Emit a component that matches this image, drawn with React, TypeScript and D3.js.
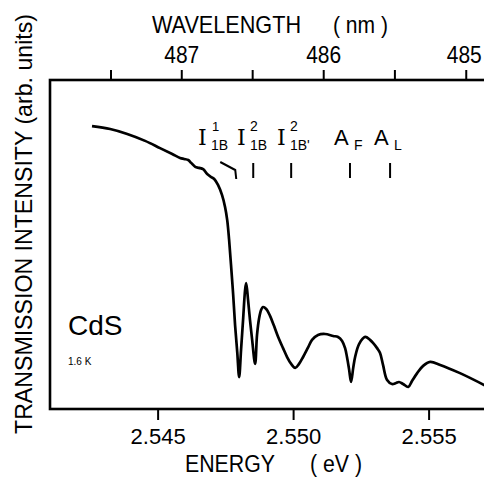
import React from 'react';
import * as d3 from 'd3';

// transmission spectrum of CdS at 1.6 K
const energy = [
  2.54256, 2.54323, 2.54386, 2.54452, 2.54507, 2.54552, 2.54581, 2.54596, 2.54611, 2.54622,
  2.54637, 2.54651, 2.54666, 2.54681, 2.54696, 2.54707, 2.54721, 2.54736, 2.54747, 2.54755,
  2.54762, 2.54769, 2.54777, 2.54784, 2.54792, 2.54799, 2.54806, 2.54814, 2.54821, 2.54825,
  2.54832, 2.54839, 2.54847, 2.54858, 2.54865, 2.54873, 2.5488, 2.54887, 2.54899, 2.54913,
  2.54928, 2.54943, 2.54961, 2.54976, 2.54991, 2.55006, 2.5502, 2.55035, 2.55054, 2.55068,
  2.5509, 2.55116, 2.55146, 2.55164, 2.55179, 2.5519, 2.55197, 2.55205, 2.55212, 2.5522,
  2.55227, 2.55242, 2.55264, 2.55282, 2.55293, 2.55308, 2.55319, 2.5533, 2.55345, 2.55363,
  2.55378, 2.55389, 2.55404, 2.55423, 2.55437, 2.55456, 2.55478, 2.55504, 2.55541, 2.55614,
  2.5571,
];
const intensity = [
  86.0, 85.1, 83.6, 81.5, 79.3, 77.5, 76.3, 76.0, 75.7, 74.8,
  73.6, 73.3, 72.9, 71.4, 70.5, 69.9, 68.1, 65.0, 61.4, 57.4,
  51.4, 43.8, 34.7, 25.5, 17.3, 9.7, 17.9, 27.7, 36.2, 38.3,
  33.1, 27.1, 21.0, 13.7, 22.5, 27.7, 30.1, 31.0, 30.4, 28.3,
  25.2, 21.9, 18.5, 15.8, 13.7, 12.5, 13.7, 15.8, 18.8, 21.0,
  22.5, 22.8, 22.2, 21.9, 20.7, 18.5, 15.8, 11.9, 8.2, 12.5,
  15.8, 19.8, 21.9, 21.0, 20.1, 18.5, 17.0, 13.4, 8.8, 7.6,
  7.9, 8.2, 7.6, 6.7, 8.5, 10.9, 13.1, 14.3, 13.4, 10.9,
  7.0,
];

const energyTicks = [2.545, 2.55, 2.555];
const wavelengthTicks = [487.5, 487, 486.5, 486, 485.5, 485];
const wavelengthLabels = [487, 486, 485];
const markerEnergy = [2.54792, 2.54851, 2.54991, 2.55208, 2.55356];

const HC = 1239.84; // eV nm

const FONT = '"Liberation Sans", Arial, sans-serif';

function App() {
  const left = 50, right = 486, top = 80, bottom = 409;
  const x = d3.scaleLinear().domain([2.54101, 2.5571]).range([left, right]);
  const y = d3.scaleLinear().domain([0, 100]).range([bottom, top]);

  const pts: [number, number][] = energy.map((e, i) => [e, intensity[i]]);
  const line = d3.line<[number, number]>()
    .x(d => x(d[0]))
    .y(d => y(d[1]))
    .curve(d3.curveCatmullRom.alpha(0.5));

  const xw = (l: number) => x(HC / l);

  return (
    <svg width={484} height={477} style={{ position: 'absolute', left: 0, top: 0, background: '#fff' }}>
      <defs>
        <clipPath id="plotclip">
          <rect x={left} y={top - 10} width={right - left} height={bottom - top + 20} />
        </clipPath>
      </defs>
      {/* frame */}
      <rect x={left} y={top} width={right - left + 10} height={bottom - top}
        fill="none" stroke="#000" strokeWidth={2.6} />

      {/* bottom axis */}
      {energyTicks.map(t => (
        <g key={t}>
          <line x1={x(t)} x2={x(t)} y1={bottom} y2={bottom + 11} stroke="#000" strokeWidth={2} />
          <text x={x(t)} y={444} textAnchor="middle" fontSize={22} fontFamily={FONT}>{t.toFixed(3)}</text>
        </g>
      ))}
      <text y={472} fontSize={23} fontFamily={FONT}>
        <tspan x={185} textLength={90} lengthAdjust="spacingAndGlyphs">ENERGY</tspan>
        <tspan x={310} textLength={52} lengthAdjust="spacingAndGlyphs">( eV )</tspan>
      </text>

      {/* top axis (wavelength) */}
      {wavelengthTicks.map(l => (
        <line key={l} x1={xw(l)} x2={xw(l)} y1={top} y2={top - 10} stroke="#000" strokeWidth={2} />
      ))}
      {wavelengthLabels.map(l => (
        <text key={l} x={xw(l) - (l === 485 ? 2 : 0)} y={63} textAnchor="middle" fontSize={24} fontFamily={FONT}
          textLength={35} lengthAdjust="spacingAndGlyphs">{l}</text>
      ))}
      <text y={33} fontSize={24} fontFamily={FONT}>
        <tspan x={152} textLength={149} lengthAdjust="spacingAndGlyphs">WAVELENGTH</tspan>
        <tspan x={333} textLength={55} lengthAdjust="spacingAndGlyphs">( nm )</tspan>
      </text>

      {/* y label */}
      <text transform="translate(32,224) rotate(-90)" textAnchor="middle" fontSize={24} fontFamily={FONT}
        textLength={420} lengthAdjust="spacingAndGlyphs">TRANSMISSION INTENSITY (arb. units)</text>

      {/* spectrum */}
      <path d={line(pts) ?? ''} fill="none" stroke="#000" strokeWidth={2.7}
        strokeLinejoin="round" clipPath="url(#plotclip)" />

      {/* line markers */}
      {markerEnergy.map((e, i) => {
        const mx = x(e);
        const d = i === 0
          ? `M${mx - 17},162 L${mx - 2},170 L${mx - 1},179`
          : `M${mx},163 L${mx},178`;
        return <path key={e} d={d} fill="none" stroke="#000" strokeWidth={2} />;
      })}

      {/* labels */}
      <g fontFamily={FONT}>
        <text x={198} y={145} fontSize={22} fontFamily='"DejaVu Serif", serif'>I</text>
        <text x={212} y={131} fontSize={13}>1</text>
        <text x={211} y={150} fontSize={14}>1B</text>

        <text x={237} y={145} fontSize={22} fontFamily='"DejaVu Serif", serif'>I</text>
        <text x={250} y={131} fontSize={14}>2</text>
        <text x={250} y={150} fontSize={14}>1B</text>

        <text x={277} y={145} fontSize={22} fontFamily='"DejaVu Serif", serif'>I</text>
        <text x={290} y={131} fontSize={14}>2</text>
        <text x={290} y={150} fontSize={14}>1B'</text>

        <text x={334} y={145} fontSize={22}>A</text>
        <text x={354} y={150} fontSize={14}>F</text>

        <text x={374} y={145} fontSize={22}>A</text>
        <text x={394} y={150} fontSize={14}>L</text>
      </g>

      <text x={68} y={335} fontSize={28} fontFamily={FONT}>CdS</text>
      <text x={68} y={365} fontSize={10} fontFamily={FONT}>1.6 K</text>
    </svg>
  );
}

export default App;
